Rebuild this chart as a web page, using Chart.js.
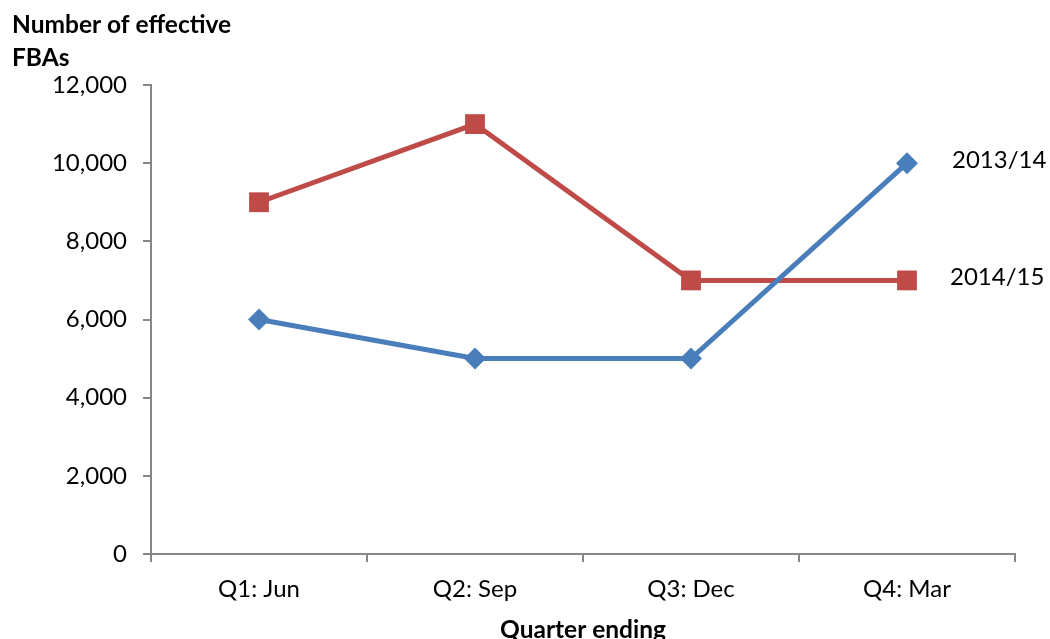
<!DOCTYPE html>
<html>
<head>
<meta charset="utf-8">
<script src="https://cdn.jsdelivr.net/npm/chart.js@4/dist/chart.umd.min.js"></script>
<style>
  html, body { margin: 0; padding: 0; background: #fff; }
  #wrap { width: 1050px; height: 639px; }
</style>
</head>
<body>
<div id="wrap"><canvas id="c" width="1050" height="639"></canvas></div>
<script>
const quarters = ['Q1: Jun', 'Q2: Sep', 'Q3: Dec', 'Q4: Mar'];
const fba2013 = [6000, 5000, 5000, 10000];
const fba2014 = [9000, 11000, 7000, 7000];
const seriesNames = ['2013/14', '2014/15'];
const yTitleLines = ['Number of effective', 'FBAs'];
const xTitle = 'Quarter ending';

const FONT = 'Lato, "Open Sans", sans-serif';
const AXIS = '#868686';
const BLUE = '#4A7EBB';
const RED = '#BE4B48';

// Titles and end-of-line series names
const annotate = {
  id: 'annotate',
  afterDatasetsDraw(chart) {
    const { ctx, chartArea, scales } = chart;
    ctx.save();
    ctx.fillStyle = '#000';
    ctx.font = 'bold 24.5px ' + FONT;
    ctx.textAlign = 'left';
    ctx.textBaseline = 'middle';
    ctx.fillText(yTitleLines[0], 12, 25);
    ctx.fillText(yTitleLines[1], 12, 58);
    ctx.textAlign = 'center';
    ctx.fillText(xTitle, (chartArea.left + chartArea.right) / 2, 630);

    ctx.font = '24px ' + FONT;
    ctx.textAlign = 'left';
    chart.data.datasets.forEach((ds, i) => {
      const last = ds.data.length - 1;
      const x = scales.x.getPixelForValue(last);
      const y = scales.y.getPixelForValue(ds.data[last]);
      ctx.fillText(ds.label, x + (i === 0 ? 45 : 43), y - 3);
    });
    ctx.restore();
  }
};

new Chart(document.getElementById('c'), {
  type: 'line',
  data: {
    labels: quarters,
    datasets: [
      {
        label: seriesNames[0],
        data: fba2013,
        borderColor: BLUE,
        backgroundColor: BLUE,
        borderWidth: 5,
        pointStyle: 'rectRot',
        pointRadius: 11,
        pointHoverRadius: 11,
        pointBorderWidth: 0,
        tension: 0,
        order: 0
      },
      {
        label: seriesNames[1],
        data: fba2014,
        borderColor: RED,
        backgroundColor: RED,
        borderWidth: 5,
        pointStyle: 'rect',
        pointRadius: 14,
        pointHoverRadius: 14,
        pointBorderWidth: 0,
        tension: 0,
        order: 1
      }
    ]
  },
  options: {
    responsive: false,
    animation: false,
    events: [],
    layout: { padding: { top: 85, right: 35, left: 0, bottom: 0 } },
    plugins: {
      legend: { display: false },
      tooltip: { enabled: false },
      title: { display: false }
    },
    scales: {
      x: {
        type: 'category',
        offset: true,
        grid: {
          offset: true,
          drawOnChartArea: false,
          drawTicks: true,
          tickLength: 8,
          color: AXIS,
          lineWidth: 2
        },
        border: { color: AXIS, width: 2 },
        ticks: {
          color: '#000',
          font: { family: FONT, size: 24 },
          padding: 13,
          maxRotation: 0
        },
        afterFit(scale) { scale.height = 85; }
      },
      y: {
        min: 0,
        max: 12000,
        grid: {
          drawOnChartArea: false,
          drawTicks: true,
          tickLength: 8,
          color: AXIS,
          lineWidth: 2
        },
        border: { color: AXIS, width: 2 },
        ticks: {
          stepSize: 2000,
          color: '#000',
          font: { family: FONT, size: 24 },
          padding: 16,
          callback: v => v.toLocaleString('en-US')
        },
        afterFit(scale) { scale.width = 151; }
      }
    }
  },
  plugins: [annotate]
});
</script>
</body>
</html>
